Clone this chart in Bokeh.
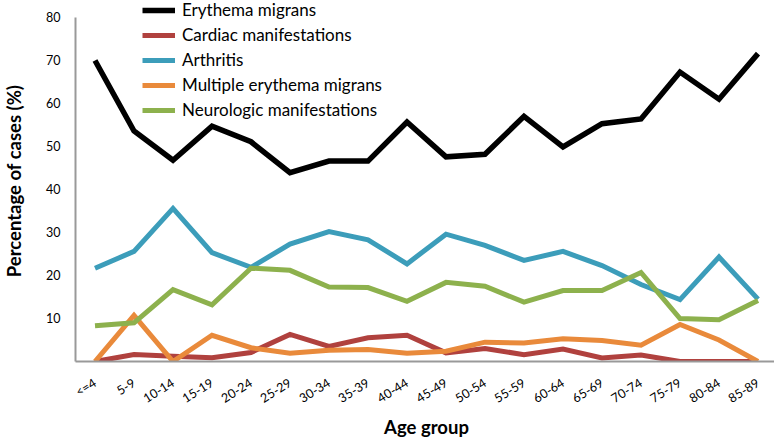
from bokeh.plotting import figure
from bokeh.models import Range1d, FactorRange, FixedTicker, Legend, LegendItem
from bokeh.embed import file_html
from bokeh.resources import INLINE

age_groups = ["<=4", "5-9", "10-14", "15-19", "20-24", "25-29", "30-34", "35-39", "40-44",
              "45-49", "50-54", "55-59", "60-64", "65-69", "70-74", "75-79", "80-84", "85-89"]

erythema_migrans = [70.0, 53.6, 46.8, 54.7, 51.1, 43.9, 46.6, 46.6, 55.7,
                    47.6, 48.2, 57.0, 49.9, 55.3, 56.4, 67.3, 61.0, 71.6]
cardiac = [0.0, 1.6, 1.2, 0.9, 2.1, 6.3, 3.5, 5.5, 6.1,
           2.0, 3.0, 1.6, 2.9, 0.8, 1.5, 0.0, 0.0, 0.0]
arthritis = [21.7, 25.6, 35.6, 25.3, 21.9, 27.3, 30.2, 28.3, 22.7,
             29.6, 27.0, 23.5, 25.6, 22.3, 17.9, 14.4, 24.3, 14.5]
multiple_em = [0.0, 10.7, 0.0, 6.1, 3.2, 1.9, 2.6, 2.8, 1.9,
               2.4, 4.5, 4.3, 5.3, 4.9, 3.8, 8.6, 5.0, 0.0]
neurologic = [8.3, 9.0, 16.7, 13.2, 21.7, 21.2, 17.3, 17.2, 14.0,
              18.4, 17.5, 13.8, 16.5, 16.5, 20.7, 10.0, 9.7, 14.2]

series_names = ["Erythema migrans", "Cardiac manifestations", "Arthritis",
                "Multiple erythema migrans", "Neurologic manifestations"]
y_ticks = [10, 20, 30, 40, 50, 60, 70, 80]

FONT = "Lato"
FRAME_H = 361

p = figure(frame_width=702, frame_height=FRAME_H, output_backend="svg", toolbar_location=None,
           x_range=FactorRange(*age_groups), y_range=Range1d(0, 83.95),
           min_border_left=70, min_border_right=0, min_border_top=0, min_border_bottom=0)
p.outline_line_color = None
p.xgrid.grid_line_color = None
p.ygrid.grid_line_color = None

series = [
    (erythema_migrans, "#000000", 5.5),
    (cardiac, "#B0413E", 5),
    (arthritis, "#3C9DBA", 5),
    (multiple_em, "#E98A3B", 5),
    (neurologic, "#8DB14D", 5),
]
items = []
for (vals, color, w), name in zip(series, series_names):
    r = p.line(age_groups, vals, line_color=color, line_width=w, line_join="miter")
    items.append(LegendItem(label=name, renderers=[r]))

legend = Legend(items=items, border_line_color=None,
                background_fill_alpha=0, padding=0, margin=0, spacing=4,
                glyph_width=33, glyph_height=18, label_height=18, label_standoff=7,
                label_text_font=FONT, label_text_font_size="17px", label_text_color="#000000")
legend.location = (67, FRAME_H - 120)
p.add_layout(legend, "center")

p.yaxis.bounds = (0, 80)
p.yaxis.ticker = FixedTicker(ticks=y_ticks)
p.yaxis.axis_label = "Percentage of cases (%)"
p.xaxis.axis_label = "Age group"
for ax in (p.xaxis[0], p.yaxis[0]):
    ax.axis_line_color = "#999999"
    ax.axis_line_width = 2
    ax.major_tick_line_color = None
    ax.minor_tick_line_color = None
    ax.major_tick_out = 0
    ax.major_tick_in = 0
    ax.minor_tick_out = 0
    ax.minor_tick_in = 0
    ax.major_label_text_font = FONT
    ax.major_label_text_font_size = "12.5px"
    ax.major_label_text_color = "#000000"
    ax.axis_label_text_font = FONT
    ax.axis_label_text_font_style = "bold"
    ax.axis_label_text_font_size = "18.5px"
    ax.axis_label_text_color = "#000000"
p.yaxis.major_label_standoff = 15
p.yaxis.axis_label_standoff = 18
p.xaxis.major_label_orientation = 0.56
p.xaxis.major_label_standoff = 20
p.xaxis.axis_label_standoff = 1

open("out.html", "w").write(file_html(p, INLINE))
